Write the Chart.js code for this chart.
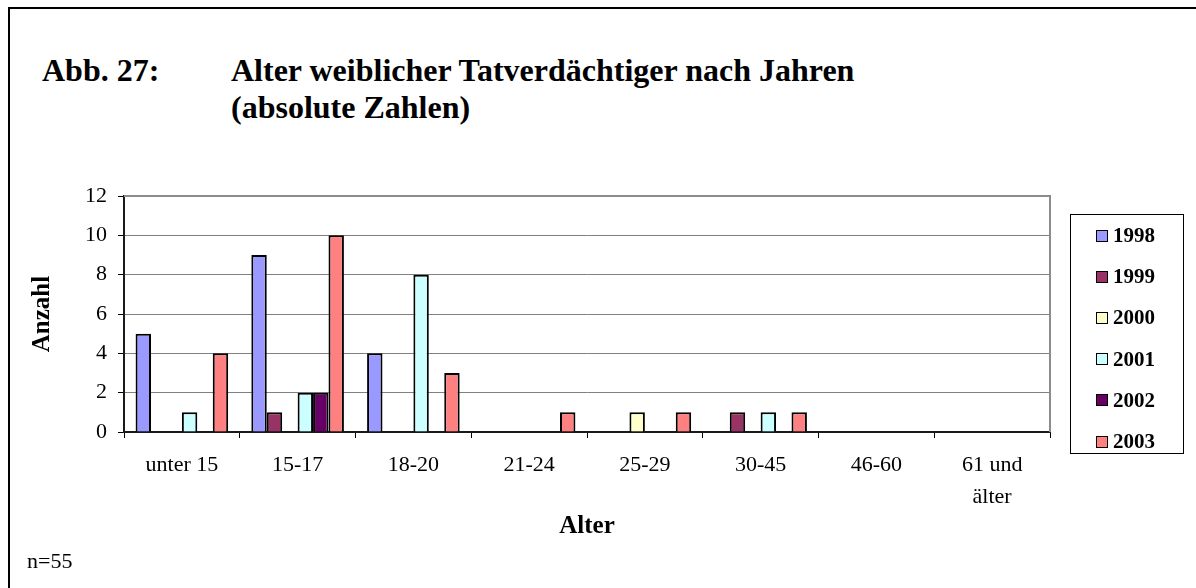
<!DOCTYPE html>
<html lang="de">
<head>
<meta charset="utf-8">
<title>Abb. 27</title>
<script src="https://cdn.jsdelivr.net/npm/chart.js@4.4.1/dist/chart.umd.min.js"></script>
<style>
    html, body { margin: 0; padding: 0; background: #fff; overflow: hidden; }
    body { width: 1196px; height: 588px; position: relative; font-family: "Liberation Serif", serif; color: #000; }
    #frame { position: absolute; left: 8px; top: 7px; width: 1400px; height: 800px; border: 2px solid #000; }
    .title { position: absolute; font-weight: bold; font-size: 32px; line-height: 37px; white-space: nowrap; }
    #note { position: absolute; left: 27px; top: 550px; font-size: 22px; line-height: 22px; }
    #chart { position: absolute; left: 0; top: 0; }
    #legend { position: absolute; left: 1070px; top: 214px; width: 112px; height: 238px; border: 1px solid #000; background: #fff; }
    .item { position: absolute; left: 25px; height: 41px; display: flex; align-items: center; font-weight: bold; font-size: 21px; }
    .swatch { width: 10px; height: 10px; border: 1.5px solid #000; margin-right: 5px; }
</style>
</head>
<body>
<div id="frame"></div>
<div class="title" style="left:42px; top:52px;">Abb. 27:</div>
<div class="title" style="left:231px; top:52px;">Alter weiblicher Tatverdächtiger nach Jahren<br>(absolute Zahlen)</div>
<canvas id="chart" width="1196" height="588"></canvas>
<div id="legend"></div>
<div id="note">n=55</div>
<script>
// Altersgruppen (x-Achse)
const ageGroups = ['unter 15', '15-17', '18-20', '21-24', '25-29', '30-45', '46-60', ['61 und', 'älter']];
const years = ['1998', '1999', '2000', '2001', '2002', '2003'];

// Anzahl je Jahr und Altersgruppe
const v1998 = [5, 9, 4, 0, 0, 0, 0, 0];
const v1999 = [0, 1, 0, 0, 0, 1, 0, 0];
const v2000 = [0, 0, 0, 0, 1, 0, 0, 0];
const v2001 = [1, 2, 8, 0, 0, 1, 0, 0];
const v2002 = [0, 2, 0, 0, 0, 0, 0, 0];
const v2003 = [4, 10, 3, 1, 1, 1, 0, 0];

const yMax = 12;
const yStep = 2;

const seriesValues = [v1998, v1999, v2000, v2001, v2002, v2003];
const seriesColors = ['#9999FF', '#993366', '#FFFFCC', '#CCFFFF', '#660066', '#FF8080'];

const serif = 'Liberation Serif';

// grauer Rahmen oben/rechts um die Zeichenfläche
const plotFrame = {
    id: 'plotFrame',
    afterDraw(chart) {
        const { ctx, chartArea: a } = chart;
        ctx.save();
        ctx.strokeStyle = '#8c8c8c';
        ctx.lineWidth = 2;
        ctx.beginPath();
        ctx.moveTo(a.left, a.top);
        ctx.lineTo(a.right, a.top);
        ctx.lineTo(a.right, a.bottom);
        ctx.stroke();
        ctx.restore();
    }
};

const datasets = years.map((year, i) => ({
    label: year,
    data: seriesValues[i],
    backgroundColor: seriesColors[i],
    borderColor: '#000',
    borderWidth: 2,
    categoryPercentage: 0.8,
    barPercentage: 1.0
}));

const chart = new Chart(document.getElementById('chart').getContext('2d'), {
    type: 'bar',
    data: { labels: ageGroups, datasets: datasets },
    options: {
        responsive: false,
        animation: false,
        devicePixelRatio: 1,
        layout: { padding: { top: 196, right: 146, bottom: 0, left: 0 } },
        plugins: {
            legend: { display: false },
            tooltip: { enabled: false }
        },
        scales: {
            x: {
                grid: {
                    display: true,
                    drawOnChartArea: false,
                    drawTicks: true,
                    tickLength: 6,
                    tickColor: '#000',
                    offset: true
                },
                border: { color: '#1a1a1a', width: 2 },
                ticks: {
                    color: '#000',
                    padding: 11,
                    maxRotation: 0,
                    autoSkip: false,
                    font: { family: serif, size: 22, lineHeight: 1.45 }
                },
                title: {
                    display: true,
                    text: 'Alter',
                    color: '#000',
                    padding: { top: 0, bottom: 46 },
                    font: { family: serif, size: 25, weight: 'bold' }
                },
                afterFit: (scale) => { scale.height = 156; }
            },
            y: {
                min: 0,
                max: yMax,
                grid: {
                    color: '#808080',
                    lineWidth: 1,
                    tickLength: 6,
                    tickColor: '#000'
                },
                border: { color: '#1a1a1a', width: 2 },
                ticks: {
                    stepSize: yStep,
                    color: '#000',
                    padding: 11,
                    font: { family: serif, size: 22 }
                },
                title: {
                    display: true,
                    text: 'Anzahl',
                    color: '#000',
                    padding: { top: 28, bottom: 0 },
                    font: { family: serif, size: 25, weight: 'bold' }
                },
                afterFit: (scale) => { scale.width = 124; }
            }
        }
    },
    plugins: [plotFrame]
});

// Legende aus den Datensätzen
const legend = document.getElementById('legend');
chart.data.datasets.forEach((ds, i) => {
    const item = document.createElement('div');
    item.className = 'item';
    item.style.top = (i * 41.2) + 'px';
    const sw = document.createElement('span');
    sw.className = 'swatch';
    sw.style.background = ds.backgroundColor;
    const txt = document.createElement('span');
    txt.textContent = ds.label;
    item.appendChild(sw);
    item.appendChild(txt);
    legend.appendChild(item);
});
</script>
</body>
</html>
